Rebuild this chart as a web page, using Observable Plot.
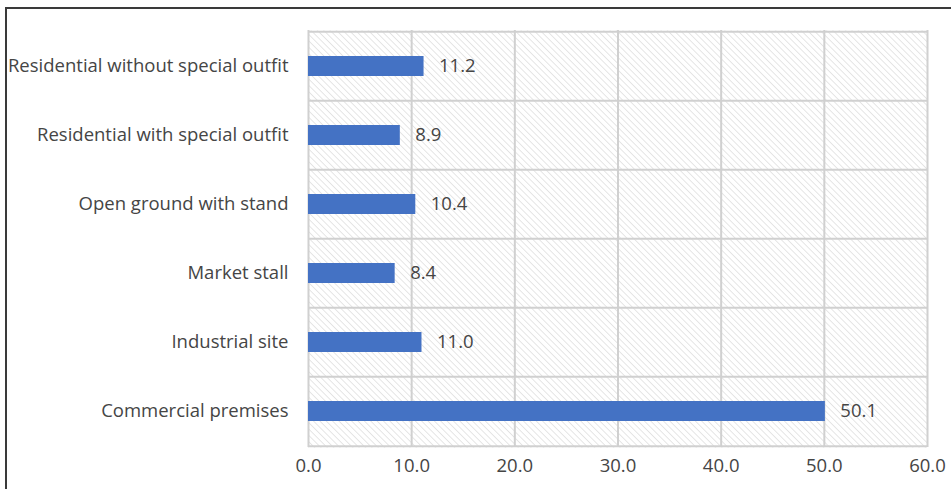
<!DOCTYPE html>
<html>
<head>
<meta charset="utf-8">
<script src="https://cdn.jsdelivr.net/npm/d3@7"></script>
<script src="https://cdn.jsdelivr.net/npm/@observablehq/plot@0.6"></script>
<style>
  html, body { margin: 0; padding: 0; background: #fff; }
  #wrap { position: relative; width: 951px; height: 489px; overflow: hidden; }
  #border { position: absolute; left: 5px; top: 7px; width: 960px; height: 500px;
            border-top: 2px solid #3a3a3a; border-left: 2px solid #3a3a3a; }
  #chart { position: absolute; left: 0; top: 0; }
</style>
</head>
<body>
<div id="wrap"><div id="border"></div><div id="chart"></div></div>
<script>
const categories = [
  "Residential without special outfit",
  "Residential with special outfit",
  "Open ground with stand",
  "Market stall",
  "Industrial site",
  "Commercial premises"
];
const values = [11.2, 8.9, 10.4, 8.4, 11.0, 50.1];
const xTicks = [0, 10, 20, 30, 40, 50, 60];

const data = categories.map((c, i) => ({category: c, value: values[i]}));

const W = 951, H = 489, mt = 30, mb = 42, ml = 308, mr = 24;
const halfStep = (H - mt - mb) / categories.length / 2;
const font = "'Open Sans', sans-serif";

const plot = Plot.plot({
  width: W,
  height: H,
  marginTop: mt,
  marginBottom: mb,
  marginLeft: ml,
  marginRight: mr,
  style: {fontFamily: font, fontSize: "18.5px", color: "#454545", background: "transparent"},
  x: {domain: [0, 60], ticks: xTicks, tickFormat: d3.format(".1f"), tickSize: 0, tickPadding: 11, label: null},
  y: {domain: categories, paddingInner: 0.71, paddingOuter: 0.355, tickSize: 0, tickPadding: 20, label: null},
  marks: [
    Plot.frame({fill: "url(#hatch)", stroke: null}),
    Plot.ruleX(xTicks, {stroke: "#d0d0d0", strokeWidth: 2, strokeOpacity: 1}),
    Plot.ruleY(categories, {y: d => d, dy: -halfStep, stroke: "#d0d0d0", strokeWidth: 2}),
    Plot.ruleY([categories[categories.length - 1]], {dy: halfStep, stroke: "#d0d0d0", strokeWidth: 2}),
    Plot.barX(data, {x: "value", y: "category", fill: "#4472C4"}),
    Plot.text(data, {x: "value", y: "category", text: d => d.value.toFixed(1), textAnchor: "start", dx: 15, fill: "#454545", fontSize: 18.5})
  ]
});

const svg = d3.select(plot);
const defs = svg.insert("defs", ":first-child");
const pat = defs.append("pattern")
  .attr("id", "hatch")
  .attr("patternUnits", "userSpaceOnUse")
  .attr("width", 4.5).attr("height", 4.5)
  .attr("patternTransform", "rotate(-45)");
pat.append("rect").attr("width", 4.5).attr("height", 4.5).attr("fill", "#ffffff");
pat.append("line").attr("x1", 0).attr("y1", 0).attr("x2", 0).attr("y2", 4.5)
  .attr("stroke", "#d6d6d6").attr("stroke-width", 1.2);

document.getElementById("chart").appendChild(plot);
</script>
</body>
</html>
